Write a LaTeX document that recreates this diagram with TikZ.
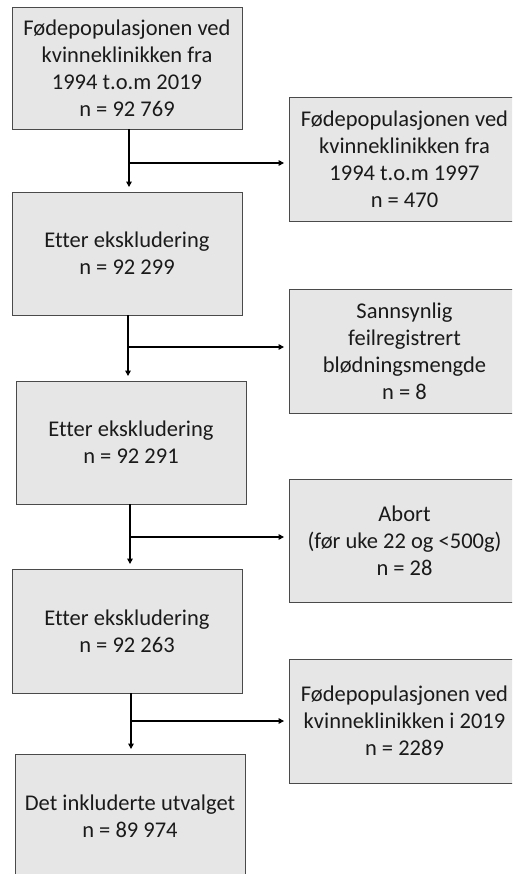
\documentclass[tikz,border=0pt]{standalone}
\usepackage{fontspec}
\setmainfont[Ligatures={NoCommon}]{Carlito}
\usetikzlibrary{arrows.meta,calc}
\definecolor{boxfill}{HTML}{E7E6E6}
\definecolor{boxline}{HTML}{4A4A4A}
\definecolor{txt}{HTML}{1A1A1A}
\tikzset{
  flowbox/.style={draw=boxline, line width=0.9pt, fill=boxfill, align=center,
    inner sep=0pt, text=txt, font=\fontsize{22.5}{27}\selectfont},
  leftbox/.style={flowbox, minimum width=230pt},
  rightbox/.style={flowbox, minimum width=231pt},
  arr/.style={line width=1.4pt, draw=black, -{Triangle[length=5.5pt,width=5.5pt]}, shorten >=4.5pt},
  branch/.style={line width=1.4pt, draw=black}
}
\begin{document}
\begin{tikzpicture}[x=1pt,y=-1pt]
\useasboundingbox (0,0) rectangle (512,874);
\clip (0,0) rectangle (512,874);
\fill[white] (0,0) rectangle (512,874);
% left column
\node[leftbox, minimum height=122pt] (A) at (127,68) {Fødepopulasjonen ved\\kvinneklinikken fra\\1994 t.o.m 2019\\n = 92 769};
\node[leftbox, minimum height=123pt] (B) at (127,253.5) {Etter ekskludering\\n = 92 299};
\node[leftbox, minimum height=123pt] (C) at (131,442.5) {Etter ekskludering\\n = 92 291};
\node[leftbox, minimum height=124pt] (D) at (127,631) {Etter ekskludering\\n = 92 263};
\node[leftbox, minimum height=124pt] (E) at (130,816) {Det inkluderte utvalget\\n = 89 974};
% right column
\node[rightbox, minimum height=124pt] (R1) at (404.5,159) {Fødepopulasjonen ved\\kvinneklinikken fra\\1994 t.o.m 1997\\n = 470};
\node[rightbox, minimum height=124pt] (R2) at (404.5,351) {Sannsynlig\\feilregistrert\\blødningsmengde\\n = 8};
\node[rightbox, minimum height=123pt] (R3) at (404.5,540.5) {Abort\\(før uke 22 og <500g)\\n = 28};
\node[rightbox, minimum height=124pt] (R4) at (404.5,721) {Fødepopulasjonen ved\\kvinneklinikken i 2019\\n = 2289};
% branch points
\coordinate (j1) at (129,163);
\coordinate (j2) at (128,347);
\coordinate (j3) at (130,537);
\coordinate (j4) at (131,721);
% connectors
\draw[arr] (A.south -| j1) -- (B.north -| j1);
\draw[arr] (j1) -- (j1 -| R1.west);
\draw[arr] (B.south -| j2) -- (C.north -| j2);
\draw[arr] (j2) -- (j2 -| R2.west);
\draw[arr] (C.south -| j3) -- (D.north -| j3);
\draw[arr] (j3) -- (j3 -| R3.west);
\draw[arr] (D.south -| j4) -- (E.north -| j4);
\draw[arr] (j4) -- (j4 -| R4.west);
\end{tikzpicture}
\end{document}
